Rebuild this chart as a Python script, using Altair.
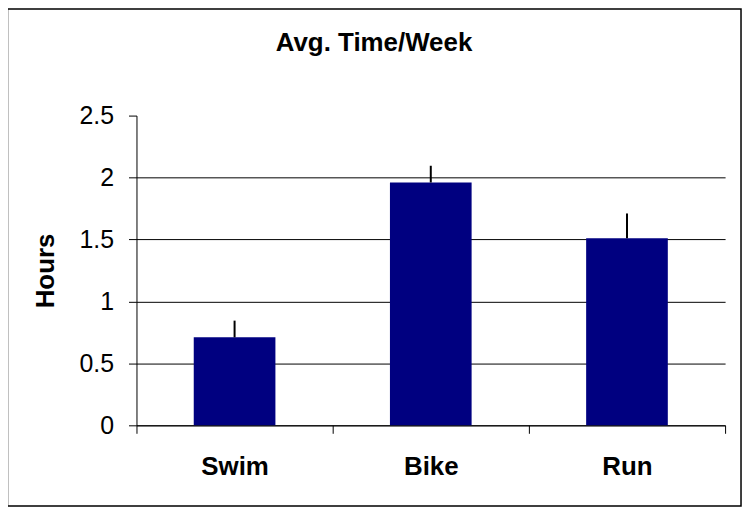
import altair as alt
import pandas as pd

categories = ["Swim", "Bike", "Run"]
hours = [0.71, 1.96, 1.51]
err_plus = [0.135, 0.135, 0.2]

df = pd.DataFrame({"cat": categories, "hours": hours, "err": err_plus})

FONT = "Liberation Sans"

x_axis = alt.Axis(
    labelAngle=0,
    labelFont=FONT,
    labelFontSize=26,
    labelFontWeight="bold",
    labelColor="black",
    labelPadding=20,
    tickBand="extent",
    tickColor="black",
    tickSize=8,
    domainColor="black",
    grid=False,
)
x_scale = alt.Scale(paddingInner=0, paddingOuter=0)

y_axis = alt.Axis(
    values=[0, 0.5, 1, 1.5, 2, 2.5],
    format="~g",
    labelFont=FONT,
    labelFontSize=25,
    labelColor="black",
    labelPadding=15,
    tickSize=8,
    tickColor="black",
    domainColor="black",
    grid=True,
    gridColor="black",
    gridOpacity={"condition": {"test": "datum.value >= 2.5", "value": 0}, "value": 1},
    titleFont=FONT,
    titleFontSize=26,
    titleFontWeight="bold",
    titleColor="black",
    titlePadding=21,
)
y_scale = alt.Scale(domain=[0, 2.5], nice=False)

bars = alt.Chart(df).mark_bar(color="#000080", size=82).encode(
    x=alt.X("cat:N", sort=categories, title=None, scale=x_scale, axis=x_axis),
    y=alt.Y("hours:Q", scale=y_scale, title="Hours", axis=y_axis),
)

errs = alt.Chart(df).transform_calculate(upper="datum.hours + datum.err").mark_rule(
    color="black", strokeWidth=2
).encode(
    x=alt.X("cat:N", sort=categories, title=None, scale=x_scale, axis=x_axis),
    y=alt.Y("hours:Q", scale=y_scale, title="Hours", axis=y_axis),
    y2="upper:Q",
)

frame = alt.Chart(df).mark_rect(
    fill=None, stroke="black", strokeWidth=1.5, clip=False
).encode(
    x=alt.value(-129.5), x2=alt.value(607), y=alt.value(-107), y2=alt.value(392)
).transform_filter("datum.cat == 'Swim'")

chart = alt.layer(frame, bars, errs).properties(
    width=591,
    height=311,
    background="white",
    title=alt.TitleParams(
        "Avg. Time/Week",
        font=FONT,
        fontSize=26,
        fontWeight="bold",
        color="black",
        anchor="middle",
        dx=-57,
        offset=-69,
        baseline="alphabetic",
    ),
    autosize=alt.AutoSizeParams(type="none"),
    padding={"left": 129, "top": 107, "right": 20, "bottom": 85},
).configure_view(stroke=None, strokeWidth=0)

chart.save("out.html", embed_options={"renderer": "svg", "actions": False})
